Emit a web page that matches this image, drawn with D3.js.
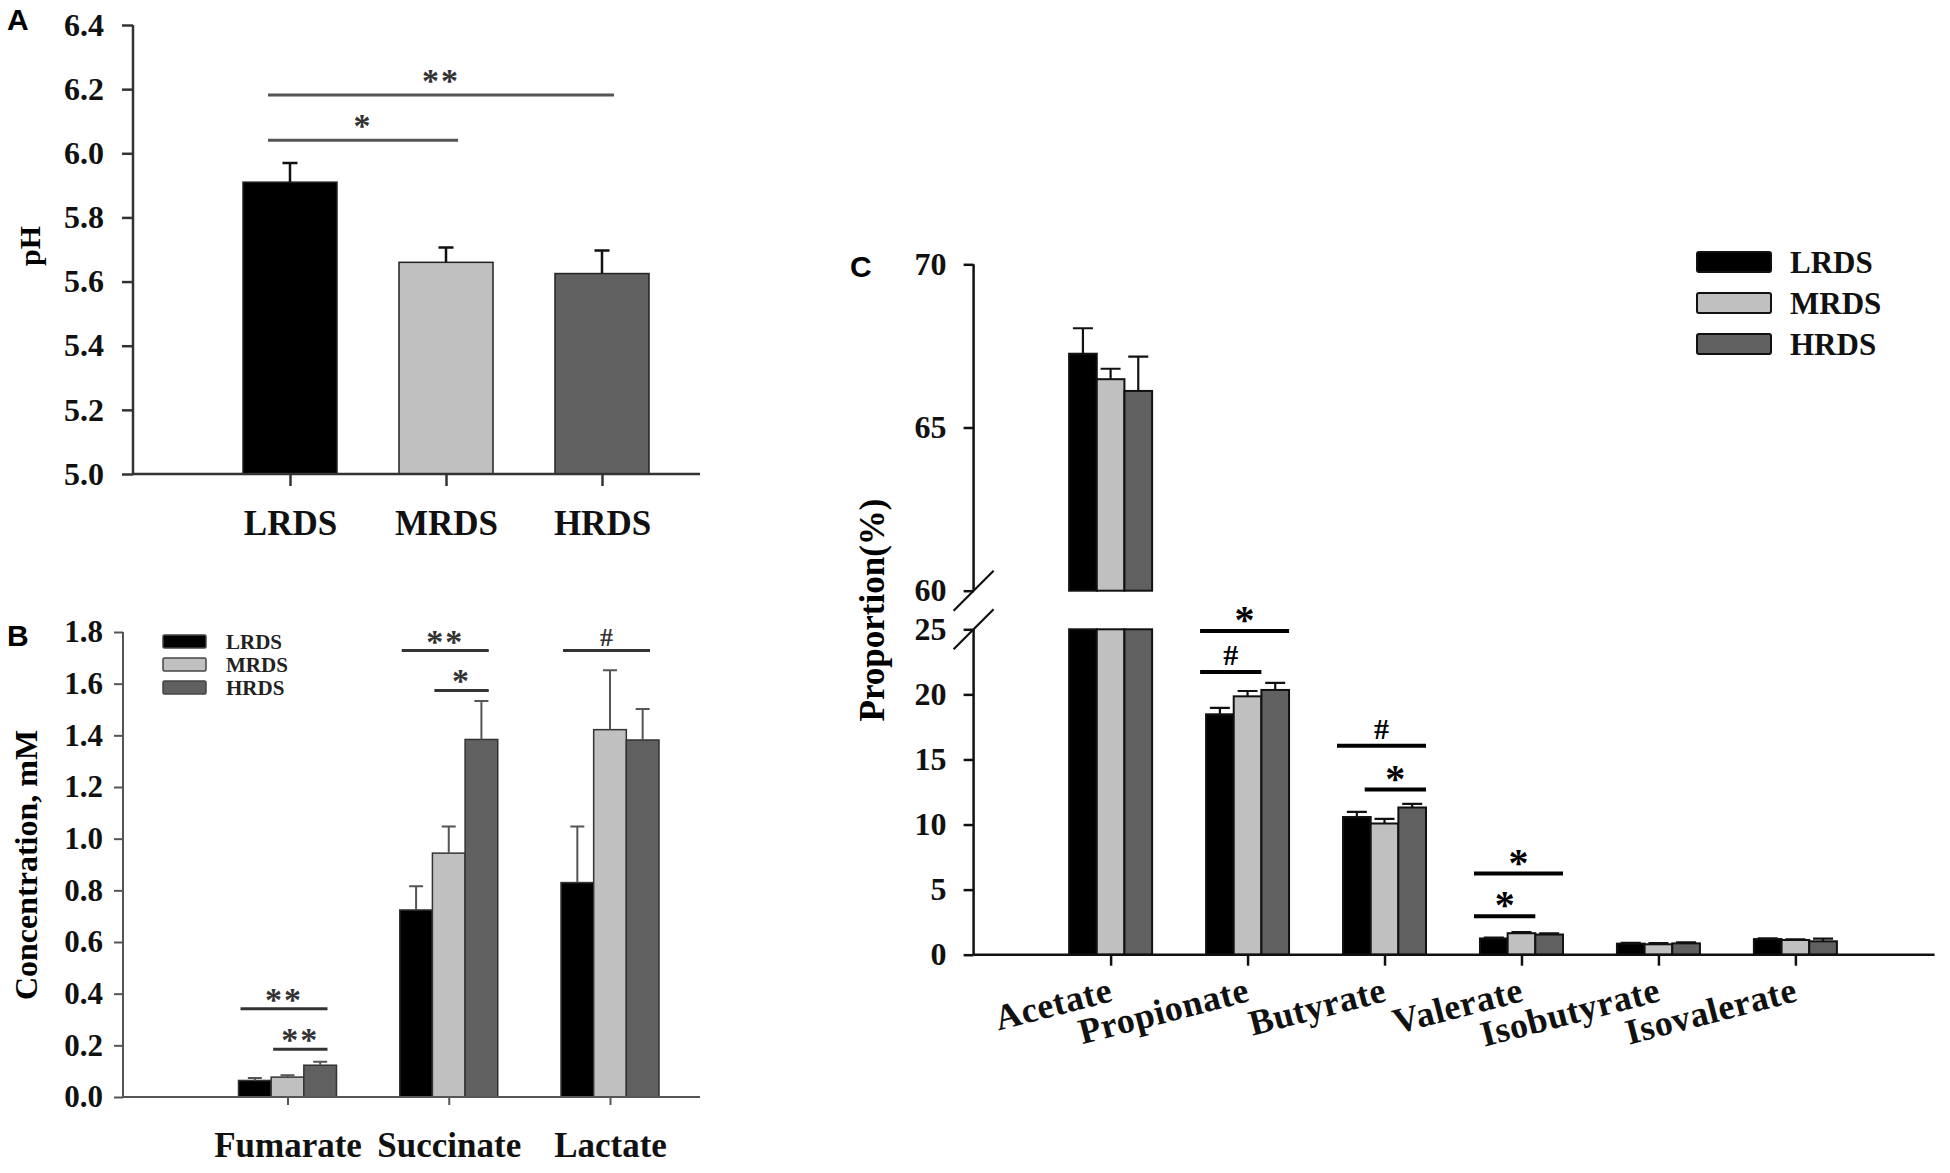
<!DOCTYPE html>
<html>
<head>
<meta charset="utf-8">
<script src="https://cdn.jsdelivr.net/npm/d3@7"></script>
<style>
  body { margin: 0; background: #fff; }
  svg text { font-family: "Liberation Serif", "Times New Roman", serif; font-weight: bold; }
  svg text.panel { font-family: "Liberation Sans", Arial, sans-serif; }
</style>
</head>
<body>
<div id="chart"></div>
<script>
// groups shared by all three panels
const groups = ["LRDS", "MRDS", "HRDS"];
const groupColors = ["#000000", "#c0c0c0", "#606060"];

// A: ruminal pH
const phMean = [5.91, 5.66, 5.625];
const phErr = [0.06, 0.046, 0.072];
const phTicks = [5.0, 5.2, 5.4, 5.6, 5.8, 6.0, 6.2, 6.4];
const phSig = [
  { text: "**", level: 6.182, from: 0, to: 2 },
  { text: "*", level: 6.041, from: 0, to: 1 }
];

// B: organic acids, mM
const acidNames = ["Fumarate", "Succinate", "Lactate"];
const acidLRDS = [0.064, 0.724, 0.83];
const acidMRDS = [0.077, 0.944, 1.422];
const acidHRDS = [0.123, 1.384, 1.382];
const acidErrLRDS = [0.01, 0.092, 0.217];
const acidErrMRDS = [0.007, 0.103, 0.23];
const acidErrHRDS = [0.013, 0.149, 0.12];
const acidTicks = [0, 0.2, 0.4, 0.6, 0.8, 1.0, 1.2, 1.4, 1.6, 1.8];
const acidSig = [
  { cat: 0, text: "**", level: 0.342, from: 0, to: 2 },
  { cat: 0, text: "**", level: 0.185, from: 1, to: 2 },
  { cat: 1, text: "**", level: 1.728, from: 0, to: 2 },
  { cat: 1, text: "*", level: 1.574, from: 1, to: 2 },
  { cat: 2, text: "#", level: 1.728, from: 0, to: 2 }
];

// C: VFA proportions, %
const vfaNames = ["Acetate", "Propionate", "Butyrate", "Valerate", "Isobutyrate", "Isovalerate"];
const vfaLRDS = [67.26, 18.47, 10.58, 1.25, 0.85, 1.2];
const vfaMRDS = [66.48, 19.85, 10.08, 1.65, 0.8, 1.13];
const vfaHRDS = [66.12, 20.34, 11.31, 1.55, 0.87, 1.03];
const vfaErrLRDS = [0.78, 0.49, 0.4, 0.06, 0.06, 0.06];
const vfaErrMRDS = [0.32, 0.41, 0.36, 0.09, 0.1, 0.04];
const vfaErrHRDS = [1.05, 0.54, 0.27, 0.09, 0.08, 0.2];
const vfaTicksLow = [0, 5, 10, 15, 20, 25];
const vfaTicksHigh = [60, 65, 70];
const vfaSig = [
  { cat: 1, text: "*", level: 24.87, from: 0, to: 2 },
  { cat: 1, text: "#", level: 21.72, from: 0, to: 1 },
  { cat: 2, text: "#", level: 16.06, from: 0, to: 2 },
  { cat: 2, text: "*", level: 12.69, from: 1, to: 2 },
  { cat: 3, text: "*", level: 6.23, from: 0, to: 2 },
  { cat: 3, text: "*", level: 2.95, from: 0, to: 1 }
];

const svg = d3.select("#chart").append("svg")
  .attr("width", 1950).attr("height", 1173)
  .style("display", "block");

function errPath(cx, y0, y1, cap) {
  return `M${cx},${y0}V${y1}M${cx - cap / 2},${y1}H${cx + cap / 2}`;
}

function styleAxis(g, color, width, size) {
  g.attr("font-family", null).attr("font-size", null);
  g.select(".domain").remove();
  g.selectAll(".tick line").attr("stroke", color).attr("stroke-width", width);
  g.selectAll(".tick text").attr("font-size", size).attr("fill", "#111");
}

// ---------- panel A ----------
(function () {
  const y = d3.scaleLinear().domain([5.0, 6.4]).range([474, 25]);
  const x = d3.scalePoint().domain(groups).range([290, 602]);
  const bw = 94;
  const g = svg.append("g");

  g.selectAll("rect.bar").data(groups).join("rect")
    .attr("x", d => x(d) - bw / 2)
    .attr("y", (d, i) => y(phMean[i]))
    .attr("width", bw)
    .attr("height", (d, i) => y(5.0) - y(phMean[i]))
    .attr("fill", (d, i) => groupColors[i])
    .attr("stroke", "#222").attr("stroke-width", 1.5);

  g.selectAll("path.err").data(groups).join("path")
    .attr("d", (d, i) => errPath(x(d), y(phMean[i]), y(phMean[i] + phErr[i]), 15))
    .attr("stroke", "#111").attr("stroke-width", 2.5).attr("fill", "none");

  g.append("g").attr("transform", "translate(133,0)")
    .call(d3.axisLeft(y).tickValues(phTicks).tickFormat(d3.format(".1f"))
      .tickSize(11).tickPadding(18).tickSizeOuter(0))
    .call(a => styleAxis(a, "#333", 2.5, 32));

  g.append("g").attr("transform", "translate(0,474)")
    .call(d3.axisBottom(x).tickSize(12).tickPadding(24).tickSizeOuter(0))
    .call(a => styleAxis(a, "#333", 2.5, 35));

  g.append("line").attr("x1", 133).attr("x2", 133).attr("y1", y(6.4)).attr("y2", y(5.0))
    .attr("stroke", "#333").attr("stroke-width", 2.5);
  g.append("line").attr("x1", 133).attr("x2", 700).attr("y1", y(5.0)).attr("y2", y(5.0))
    .attr("stroke", "#333").attr("stroke-width", 2.5);

  phSig.forEach(s => {
    const x1 = x(groups[s.from]) - 22;
    const x2 = x(groups[s.to]) + 12;
    g.append("line").attr("x1", x1).attr("x2", x2).attr("y1", y(s.level)).attr("y2", y(s.level))
      .attr("stroke", "#555").attr("stroke-width", 3);
    g.append("text").attr("x", (x1 + x2) / 2).attr("y", y(s.level) - 3)
      .attr("text-anchor", "middle").attr("font-size", 34).attr("fill", "#333")
      .attr("letter-spacing", 2)
      .text(s.text);
  });

  g.append("text").attr("transform", "translate(40,246) rotate(-90)")
    .attr("text-anchor", "middle").attr("font-size", 30).text("pH");
  svg.append("text").attr("class", "panel").attr("x", 7).attr("y", 30)
    .attr("font-size", 30).text("A");
})();

// ---------- panel B ----------
(function () {
  const series = [acidLRDS, acidMRDS, acidHRDS];
  const errs = [acidErrLRDS, acidErrMRDS, acidErrHRDS];
  const y = d3.scaleLinear().domain([0, 1.8]).range([1097, 632]);
  const x = d3.scalePoint().domain(acidNames).range([287.5, 610]);
  const sub = d3.scaleBand().domain(groups).range([-49, 49]);
  const bw = sub.bandwidth();
  const g = svg.append("g");

  const cells = [];
  acidNames.forEach((c, ci) => groups.forEach((s, si) =>
    cells.push({ c, s, si, v: series[si][ci], e: errs[si][ci] })));

  g.selectAll("rect.bar").data(cells).join("rect")
    .attr("x", d => x(d.c) + sub(d.s))
    .attr("y", d => y(d.v))
    .attr("width", bw)
    .attr("height", d => y(0) - y(d.v))
    .attr("fill", d => groupColors[d.si])
    .attr("stroke", "#333").attr("stroke-width", 1.5);

  g.selectAll("path.err").data(cells).join("path")
    .attr("d", d => errPath(x(d.c) + sub(d.s) + bw / 2, y(d.v), y(d.v + d.e), 14))
    .attr("stroke", "#555").attr("stroke-width", 2).attr("fill", "none");

  g.append("g").attr("transform", "translate(123,0)")
    .call(d3.axisLeft(y).tickValues(acidTicks).tickFormat(d3.format(".1f"))
      .tickSize(9).tickPadding(11).tickSizeOuter(0))
    .call(a => styleAxis(a, "#555", 2, 31));

  g.append("g").attr("transform", "translate(0,1097)")
    .call(d3.axisBottom(x).tickSize(8).tickPadding(27).tickSizeOuter(0))
    .call(a => styleAxis(a, "#555", 2, 35));

  g.append("line").attr("x1", 123).attr("x2", 123).attr("y1", y(1.8)).attr("y2", y(0))
    .attr("stroke", "#555").attr("stroke-width", 2);
  g.append("line").attr("x1", 123).attr("x2", 700).attr("y1", y(0)).attr("y2", y(0))
    .attr("stroke", "#555").attr("stroke-width", 2);

  acidSig.forEach(s => {
    const cx = x(acidNames[s.cat]);
    const x1 = cx + sub(groups[s.from]) + 2;
    const x2 = cx + sub(groups[s.to]) + bw - 9;
    g.append("line").attr("x1", x1).attr("x2", x2).attr("y1", y(s.level)).attr("y2", y(s.level))
      .attr("stroke", "#333").attr("stroke-width", 3);
    const isHash = s.text === "#";
    g.append("text").attr("x", (x1 + x2) / 2).attr("y", y(s.level) + (isHash ? -5 : 2))
      .attr("text-anchor", "middle").attr("font-size", isHash ? 26 : 34).attr("fill", "#333")
      .attr("letter-spacing", isHash ? 0 : 2)
      .text(s.text);
  });

  // legend
  const leg = g.append("g");
  groups.forEach((s, i) => {
    leg.append("rect").attr("x", 163).attr("y", 635 + i * 23).attr("width", 43).attr("height", 13)
      .attr("fill", groupColors[i]).attr("stroke", "#444").attr("stroke-width", 1.5).attr("rx", 1.5);
    leg.append("text").attr("x", 226).attr("y", 649 + i * 23).attr("font-size", 21)
      .attr("fill", "#222").text(s);
  });

  g.append("text").attr("transform", "translate(37,865) rotate(-90)")
    .attr("text-anchor", "middle").attr("font-size", 32).text("Concentration, mM");
  svg.append("text").attr("class", "panel").attr("x", 7).attr("y", 646)
    .attr("font-size", 30).text("B");
})();

// ---------- panel C ----------
(function () {
  const series = [vfaLRDS, vfaMRDS, vfaHRDS];
  const errs = [vfaErrLRDS, vfaErrMRDS, vfaErrHRDS];
  const axisX = 973.6;
  const yLow = d3.scaleLinear().domain([0, 25]).range([954.7, 629.3]);
  const yHigh = d3.scaleLinear().domain([60, 70]).range([590.7, 264.3]);
  const x = d3.scalePoint().domain(vfaNames).range([1110.6, 1795.4]);
  const sub = d3.scaleBand().domain(groups).range([-41.5, 41.5]);
  const bw = sub.bandwidth();
  const g = svg.append("g");

  const cells = [];
  vfaNames.forEach((c, ci) => groups.forEach((s, si) =>
    cells.push({ c, s, si, v: series[si][ci], e: errs[si][ci] })));

  // pieces of each bar on either side of the axis break
  const pieces = [];
  cells.forEach(d => {
    if (d.v > 25) {
      pieces.push({ d, top: yHigh(d.v), bottom: yHigh(60) });
      pieces.push({ d, top: yLow(25), bottom: yLow(0) });
    } else {
      pieces.push({ d, top: yLow(d.v), bottom: yLow(0) });
    }
  });

  g.selectAll("rect.bar").data(pieces).join("rect")
    .attr("x", p => x(p.d.c) + sub(p.d.s))
    .attr("y", p => p.top)
    .attr("width", bw)
    .attr("height", p => p.bottom - p.top)
    .attr("fill", p => groupColors[p.d.si])
    .attr("stroke", "#111").attr("stroke-width", 2);

  g.selectAll("path.err").data(cells).join("path")
    .attr("d", d => {
      const ys = d.v > 25 ? yHigh : yLow;
      return errPath(x(d.c) + sub(d.s) + bw / 2, ys(d.v), ys(d.v + d.e), 20);
    })
    .attr("stroke", "#111").attr("stroke-width", 2.2).attr("fill", "none");

  g.append("g").attr("transform", `translate(${axisX},0)`)
    .call(d3.axisLeft(yLow).tickValues(vfaTicksLow).tickSize(10).tickPadding(17).tickSizeOuter(0))
    .call(a => styleAxis(a, "#111", 2.5, 32));
  g.append("g").attr("transform", `translate(${axisX},0)`)
    .call(d3.axisLeft(yHigh).tickValues(vfaTicksHigh).tickSize(10).tickPadding(17).tickSizeOuter(0))
    .call(a => styleAxis(a, "#111", 2.5, 32));

  g.append("g").attr("transform", `translate(0,${yLow(0)})`)
    .call(d3.axisBottom(x).tickSize(11).tickSizeOuter(0))
    .call(a => styleAxis(a, "#111", 2.5, 36))
    .call(a => a.selectAll(".tick text")
      .attr("x", 0).attr("y", 0).attr("dy", null)
      .attr("text-anchor", "end").attr("letter-spacing", 0.5)
      .attr("transform", "translate(3,46) rotate(-14.5)"));

  // axis lines with break
  g.append("line").attr("x1", axisX).attr("x2", axisX).attr("y1", yHigh(70)).attr("y2", yHigh(60))
    .attr("stroke", "#111").attr("stroke-width", 2.5);
  g.append("line").attr("x1", axisX).attr("x2", axisX).attr("y1", yLow(25)).attr("y2", yLow(0))
    .attr("stroke", "#111").attr("stroke-width", 2.5);
  g.append("line").attr("x1", axisX).attr("x2", 1934.6).attr("y1", yLow(0)).attr("y2", yLow(0))
    .attr("stroke", "#111").attr("stroke-width", 2.5);
  [yHigh(60), yLow(25)].forEach(yb => {
    g.append("line").attr("x1", axisX - 20).attr("x2", axisX + 20)
      .attr("y1", yb + 20).attr("y2", yb - 20)
      .attr("stroke", "#111").attr("stroke-width", 2.2);
  });

  vfaSig.forEach(s => {
    const cx = x(vfaNames[s.cat]);
    const x1 = cx + sub(groups[s.from]) - 6;
    const x2 = cx + sub(groups[s.to]) + bw;
    g.append("line").attr("x1", x1).attr("x2", x2).attr("y1", yLow(s.level)).attr("y2", yLow(s.level))
      .attr("stroke", "#000").attr("stroke-width", 4);
    const isHash = s.text === "#";
    g.append("text").attr("x", (x1 + x2) / 2).attr("y", yLow(s.level) + (isHash ? -7 : 2))
      .attr("text-anchor", "middle").attr("font-size", isHash ? 30 : 40).attr("fill", "#000")
      .text(s.text);
  });

  // legend
  const leg = g.append("g");
  groups.forEach((s, i) => {
    leg.append("rect").attr("x", 1697).attr("y", 252 + i * 41).attr("width", 74).attr("height", 20)
      .attr("fill", groupColors[i]).attr("stroke", "#111").attr("stroke-width", 2).attr("rx", 2);
    leg.append("text").attr("x", 1790).attr("y", 273 + i * 41).attr("font-size", 31)
      .attr("fill", "#111").text(s);
  });

  g.append("text").attr("transform", "translate(884,610) rotate(-90)")
    .attr("text-anchor", "middle").attr("font-size", 35).text("Proportion(%)");
  svg.append("text").attr("class", "panel").attr("x", 850).attr("y", 277)
    .attr("font-size", 30).text("C");
})();
</script>
</body>
</html>
